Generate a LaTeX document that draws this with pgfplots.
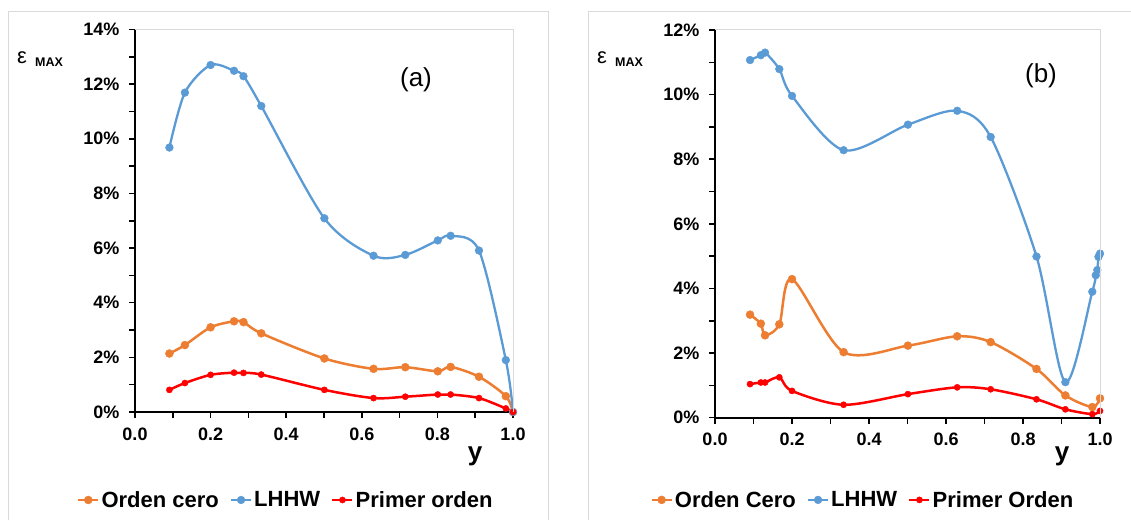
\documentclass[border=0pt]{standalone}
\usepackage{fontspec}
\setmainfont{Liberation Sans}
\usepackage{pgfplots}
\pgfplotsset{compat=1.18}
\definecolor{cOr}{RGB}{237,125,49}
\definecolor{cBl}{RGB}{91,155,213}
\definecolor{cRd}{RGB}{255,0,0}
\definecolor{frm}{RGB}{217,217,217}

\pgfplotstableread{
x      cero   lhhw   primer
0.091  2.14   9.68   0.81
0.132  2.45   11.69  1.06
0.200  3.10   12.70  1.36
0.262  3.32   12.49  1.44
0.287  3.29   12.29  1.43
0.334  2.88   11.20  1.37
0.501  1.96   7.09   0.81
0.631  1.58   5.72   0.51
0.715  1.64   5.75   0.56
0.801  1.49   6.28   0.64
0.835  1.65   6.45   0.64
0.910  1.29   5.91   0.51
0.981  0.58   1.90   0.13
1.000  0.00   0.00   0.00
}\tabA

\pgfplotstableread{
x      cero   primer
0.091  3.19   1.04
0.119  2.91   1.09
0.130  2.55   1.09
0.167  2.89   1.25
0.200  4.29   0.83
0.334  2.03   0.40
0.501  2.23   0.73
0.629  2.52   0.94
0.716  2.34   0.88
0.835  1.51   0.57
0.910  0.69   0.26
0.980  0.33   0.11
1.000  0.60   0.21
}\tabBc

\pgfplotstableread{
x      lhhw
0.091  11.07
0.119  11.22
0.130  11.30
0.167  10.79
0.200  9.96
0.334  8.28
0.501  9.07
0.629  9.50
0.716  8.69
0.835  4.99
0.910  1.10
0.980  3.90
0.989  4.41
0.993  4.57
0.996  4.98
1.000  5.08
}\tabBl

\pgfplotsset{
  panel/.style={
    scale only axis, clip=false,
    axis x line*=bottom, axis y line*=left,
    axis line style={black, line width=2pt},
    xmin=0, xmax=1, ymin=0,
    xtick={0,0.2,0.4,0.6,0.8,1},
    minor xtick={0.1,0.3,0.5,0.7,0.9},
    tick align=outside,
    major tick length=6pt, minor tick length=6pt,
    every tick/.style={black, line width=1.5pt},
    every minor tick/.style={black, line width=1.5pt},
    /pgf/number format/assume math mode=true,
    tick label style={font=\bfseries\fontsize{18}{18}\selectfont},
    xticklabel style={yshift=-6pt, /pgf/number format/.cd, fixed, fixed zerofill, precision=1},
    yticklabel style={xshift=-6pt},
    yticklabel={\pgfmathprintnumber[assume math mode=true]{\tick}\%},
    legend style={draw=none, fill=none, font=\bfseries\fontsize{22}{22}\selectfont,
      legend columns=3, anchor=center,
      /tikz/every even column/.append style={column sep=9pt}},
    legend image code/.code={\draw[mark repeat=2, mark phase=2, #1]
      plot coordinates {(0pt,0pt) (10pt,0pt) (20pt,0pt)};},
    after end axis/.code={\draw[frm, line width=1pt] (rel axis cs:0,1) -- (rel axis cs:1,1) -- (rel axis cs:1,0);},
  },
  sOr/.style={color=cOr, line width=2.5pt, smooth, mark=*, mark size=4pt,
    mark options={solid, fill=cOr, draw=cOr, line width=0.4pt}},
  sBl/.style={color=cBl, line width=2.3pt, smooth, mark=*, mark size=3.9pt,
    mark options={solid, fill=cBl, draw=cBl, line width=0.4pt}},
  sRd/.style={color=cRd, line width=2.5pt, smooth, mark=*, mark size=3.1pt,
    mark options={solid, fill=cRd, draw=cRd, line width=0.4pt}},
}

\begin{document}
\begin{tikzpicture}[x=1pt, y=1pt]
\useasboundingbox (0,0) rectangle (1131,520);
\fill[white] (0,0) rectangle (1131,520);
\draw[frm, line width=1pt] (8,0) -- (8,508) -- (548,508) -- (548,0);
\draw[frm, line width=1pt] (588,0) -- (588,508) -- (1131,508);

% Panel (a)
\begin{axis}[panel, at={(135pt,108pt)}, anchor=south west,
  width=378pt, height=382.5pt, ymax=14,
  ytick={0,2,...,14}, minor ytick={1,3,...,13},
  legend style={at={(rel axis cs:0.399,-0.230)}}]
\addplot[sOr] table[x=x, y=cero] {\tabA};
\addlegendentry{Orden cero}
\addplot[sBl] table[x=x, y=lhhw] {\tabA};
\addlegendentry{LHHW}
\addplot[sRd] table[x=x, y=primer] {\tabA};
\addlegendentry{Primer orden}
\end{axis}

% Panel (b)
\begin{axis}[panel, at={(715pt,102.3pt)}, anchor=south west,
  width=385pt, height=387.7pt, ymax=12,
  ytick={0,2,...,12}, minor ytick={1,3,...,11},
  legend style={at={(rel axis cs:0.384,-0.212)}}]
\addplot[sOr] table[x=x, y=cero] {\tabBc};
\addlegendentry{Orden Cero}
\addplot[sBl] table[x=x, y=lhhw] {\tabBl};
\addlegendentry{LHHW}
\addplot[sRd] table[x=x, y=primer] {\tabBc};
\addlegendentry{Primer Orden}
\end{axis}

\node[anchor=base west, inner sep=0pt] at (17,456) {\fontsize{22}{22}\selectfont ε};
\node[anchor=base west, inner sep=0pt] at (35,453) {\bfseries\fontsize{12.5}{12.5}\selectfont MAX};
\node[anchor=base west, inner sep=0pt] at (597,456) {\fontsize{22}{22}\selectfont ε};
\node[anchor=base west, inner sep=0pt] at (615,453) {\bfseries\fontsize{12.5}{12.5}\selectfont MAX};

\node[inner sep=0pt] at (416,440) {\fontsize{26}{26}\selectfont (a)};
\node[inner sep=0pt] at (1041,444) {\fontsize{26}{26}\selectfont (b)};

\node[inner sep=0pt] at (475,64) {\bfseries\fontsize{26}{26}\selectfont y};
\node[inner sep=0pt] at (1062,64) {\bfseries\fontsize{26}{26}\selectfont y};
\end{tikzpicture}
\end{document}
